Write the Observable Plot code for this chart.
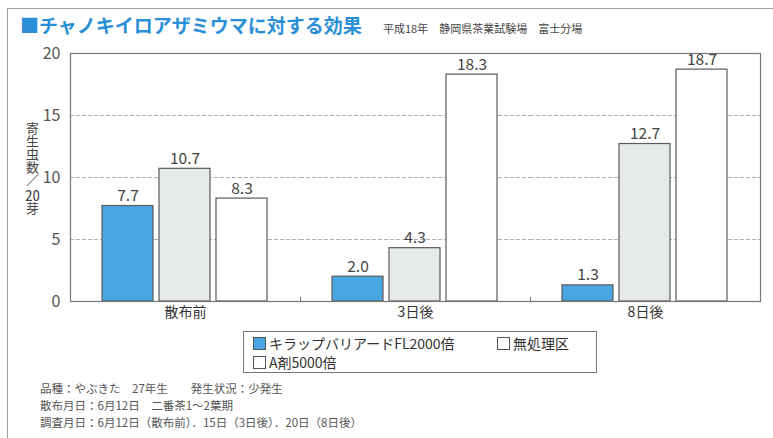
<!DOCTYPE html>
<html>
<head>
<meta charset="utf-8">
<script src="https://cdn.jsdelivr.net/npm/d3@7"></script>
<script src="https://cdn.jsdelivr.net/npm/@observablehq/plot@0.6"></script>
<style>
  body { margin: 0; width: 773px; height: 438px; position: relative; overflow: hidden; background: #fff;
         font-family: "Noto Sans CJK JP", "Noto Sans", sans-serif; }
  .abs { position: absolute; white-space: nowrap; }
  #outer { left: 7px; top: 8px; width: 780px; height: 440px; border-left: 1.5px solid #a0a0a0; border-top: 1.5px solid #a0a0a0; }
  #title { left: 20px; top: 13px; font-size: 19px; color: #2a8fd6; line-height: 24px; font-weight: 700; }
  #subtitle { left: 383px; top: 21px; font-size: 11px; color: #444; line-height: 14px; }
  #ylabel { left: 25px; top: 122px; writing-mode: vertical-rl; font-size: 13px; color: #444; line-height: 14px; }
  #ylabel .tcy { text-combine-upright: all; font-size: 15px; }
  #legend { left: 243px; top: 331px; width: 352px; height: 40px; border: 1px solid #777; font-size: 14px; color: #333; }
  .item { position: absolute; display: flex; align-items: center; height: 17px; line-height: 17px; }
  .sw { width: 11px; height: 11px; border: 1px solid #555; margin-right: 3px; display: inline-block; flex: none; }
  #notes { left: 40px; top: 380px; font-size: 11.5px; color: #555; line-height: 17px; }
  #chart svg, #overlay svg { background: transparent; }
</style>
</head>
<body>
<div id="outer" class="abs"></div>
<div id="chart" class="abs" style="left:0;top:0"></div>
<div id="overlay" class="abs" style="left:0;top:0;pointer-events:none"></div>
<div id="title" class="abs">■チャノキイロアザミウマに対する効果</div>
<div id="subtitle" class="abs">平成18年　静岡県茶業試験場　富士分場</div>
<div id="ylabel" class="abs">寄生虫数／<span class="tcy">20</span>芽</div>
<div id="legend" class="abs"></div>
<div id="notes" class="abs"></div>
<script>
// ---- data ----
const categories = ["散布前", "3日後", "8日後"];
const series = ["キラップバリアードFL2000倍", "A剤5000倍", "無処理区"];
const kirap = [7.7, 2.0, 1.3];
const agentA = [10.7, 4.3, 12.7];
const untreated = [8.3, 18.3, 18.7];
const yTicks = [0, 5, 10, 15, 20];
const seriesColors = ["#4aa6e0", "#e6eaea", "#ffffff"];
const legendColors = ["#4aa6e0", "#ffffff", "#ffffff"];
const noteLines = [
  "品種：やぶきた　27年生　　発生状況：少発生",
  "散布月日：6月12日　二番茶1～2葉期",
  "調査月日：6月12日（散布前）．15日（3日後）．20日（8日後）"
];

const valuesBySeries = [kirap, agentA, untreated];
const table = [];
categories.forEach((c, i) => {
  series.forEach((s, j) => table.push({cat: c, series: s, value: valuesBySeries[j][i]}));
});
const groupBoundaries = d3.range(1, categories.length);

const font = "Noto Sans CJK JP, Noto Sans, sans-serif";
const dims = {width: 773, height: 330, marginTop: 53, marginBottom: 29, marginLeft: 70, marginRight: 13};

const chart = Plot.plot({
  ...dims,
  style: {fontFamily: font, color: "#444", background: "transparent"},
  fx: {domain: categories, padding: 0, label: null},
  x: {domain: series, paddingInner: 0.105, paddingOuter: 0.56, axis: null},
  y: {domain: [0, 20], ticks: yTicks, label: null},
  color: {domain: series, range: seriesColors},
  marks: [
    Plot.gridY(yTicks.slice(1, -1), {stroke: "#b0b0b0", strokeOpacity: 1, strokeDasharray: "4,2"}),
    Plot.barY(table, {fx: "cat", x: "series", y: "value", fill: "series", stroke: "#5a5a5a", strokeWidth: 1.2}),
    Plot.text(table, {fx: "cat", x: "series", y: "value", text: d => d.value.toFixed(1), dy: -10, fontSize: 15.5, fill: "#444"}),
    Plot.axisY({ticks: yTicks, tickSize: 0, tickPadding: 10, fontSize: 16, label: null, fill: "#555"}),
    Plot.axisFx({anchor: "bottom", tickSize: 0, tickPadding: 6, fontSize: 14, label: null, fill: "#333"})
  ]
});
document.getElementById("chart").appendChild(chart);

// frame + group-boundary ticks (same plot area, group index scale)
const overlay = Plot.plot({
  ...dims,
  style: {background: "transparent"},
  x: {type: "linear", domain: [0, categories.length], axis: null},
  y: {domain: [0, 20], axis: null},
  marks: [
    Plot.frame({stroke: "#777", strokeWidth: 1.2}),
    Plot.ruleX(groupBoundaries, {y1: 0, y2: 0.35, stroke: "#777", strokeWidth: 1})
  ]
});
document.getElementById("overlay").appendChild(overlay);

// legend
const legend = document.getElementById("legend");
const pos = [{left: 9, top: 3}, {left: 9, top: 22}, {left: 253, top: 3}];
[0, 1, 2].forEach((j, k) => {
  const it = document.createElement("div");
  it.className = "item";
  it.style.left = pos[k].left + "px";
  it.style.top = pos[k].top + "px";
  const sw = document.createElement("span");
  sw.className = "sw";
  sw.style.background = legendColors[j];
  it.appendChild(sw);
  it.appendChild(document.createTextNode(series[j]));
  legend.appendChild(it);
});

// notes
document.getElementById("notes").innerHTML = noteLines.map(t => `<div>${t}</div>`).join("");
</script>
</body>
</html>
